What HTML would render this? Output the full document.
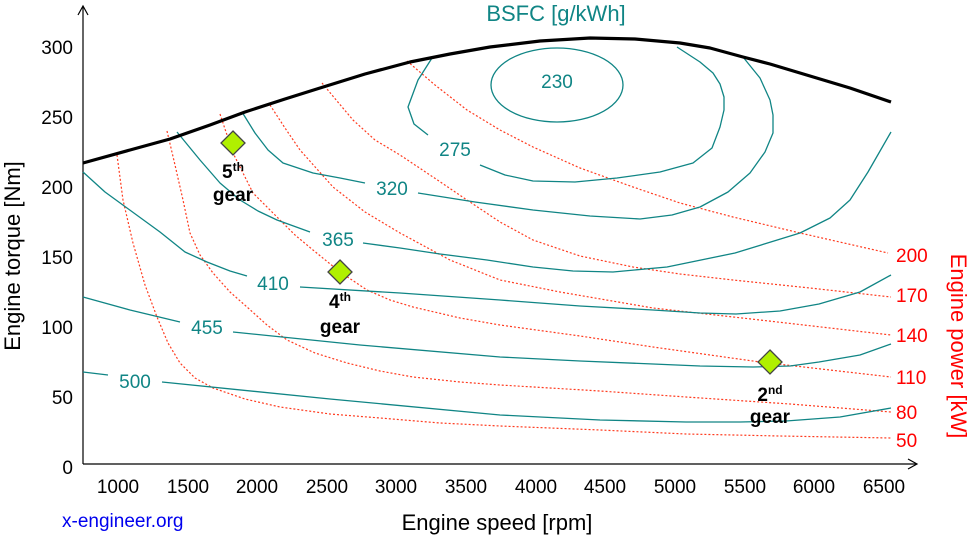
<!DOCTYPE html>
<html><head><meta charset="utf-8"><style>
html,body{margin:0;padding:0;background:#fff;}
svg{display:block;font-family:"Liberation Sans",Arial,sans-serif;}
.t{fill:none;stroke:#108585;stroke-width:1.3;stroke-linejoin:round;}
.r{fill:none;stroke:#ff3b1f;stroke-width:1.2;stroke-dasharray:2 2;stroke-linejoin:round;}
.tl{fill:#108585;font-size:19px;text-anchor:middle;}
.rl{fill:#ff0000;font-size:19px;}
.ax{font-size:19px;fill:#000;}
.g{font-size:19px;font-weight:bold;text-anchor:middle;fill:#000;}
</style></head><body>
<svg width="972" height="537" viewBox="0 0 972 537">
<line x1="83" y1="464" x2="83" y2="7" stroke="#000" stroke-width="1.2"/>
<polyline points="78,15 83,6 88,15" fill="none" stroke="#000" stroke-width="1.2"/>
<line x1="83" y1="464" x2="916" y2="464" stroke="#000" stroke-width="1.2"/>
<polyline points="908,459 917,464 908,469" fill="none" stroke="#000" stroke-width="1.2"/>

<polyline class="r" points="117,155 123,200 133,243 145,285 157,317 168,343 180,363 195,378 213,388 245,399 280,407 330,414 380,418 440,423 500,426 600,430 686,434 780,436 891,438"/>
<polyline class="r" points="167,131 175,165 183,200 190,233 200,255 213,273 230,292 247,307 267,325 287,340 315,353 347,363 380,371 413,377 460,382 500,385 600,391 686,397 790,404 891,412"/>
<polyline class="r" points="220,114 233,153 253,193 275,215 295,235 313,250 340,272 367,290 390,300 413,307 460,318 500,325 580,336 653,347 760,362 891,377"/>
<polyline class="r" points="270,105 285,128 300,150 333,187 365,212 400,233 450,260 500,280 560,292 653,308 760,320 891,335"/>
<polyline class="r" points="322,83 337,101 353,120 375,140 400,155 430,175 467,200 500,222 533,240 580,256 633,267 680,274 733,280 810,288 891,297"/>
<polyline class="r" points="407,61 435,85 467,110 500,130 533,147 580,168 633,187 680,203 733,217 800,233 888,253"/>

<ellipse cx="557" cy="85" rx="66" ry="37" class="t"/>
<polyline class="t" points="432,58 418,80 408,107 414,124 428,135"/>
<polyline class="t" points="480,165 505,175 533,181 575,182 617,178 660,172 693,163 712,148 720,127 724,110 724,97 720,84 713,73 700,62 677,47"/>
<polyline class="t" points="242,112 255,133 268,150 283,163 313,173 340,178 365,183"/>
<polyline class="t" points="418,193 475,202 533,210 590,216 640,219 672,215 700,207 728,192 750,173 765,152 773,133 773,115 770,100 760,78 743,57"/>
<polyline class="t" points="177,132 200,160 220,183 240,200 258,211 277,220 310,232"/>
<polyline class="t" points="363,243 400,248 440,254 487,260 533,267 573,271 613,272 667,267 735,253 800,233 830,218 850,200 868,172 891,132"/>
<polyline class="t" points="83,172 105,192 127,208 160,232 185,252 207,262 230,271 247,276"/>
<polyline class="t" points="300,287 400,293 500,300 580,306 653,310 700,313 736,314 780,311 819,304 860,292 891,275"/>
<polyline class="t" points="83,297 130,310 180,322"/>
<polyline class="t" points="233,332 360,345 500,357 580,361 653,364 700,366 753,367 790,366 819,362 860,355 891,344"/>
<polyline class="t" points="83,372 108,375"/>
<polyline class="t" points="162,382 330,399 500,415 600,420 686,422 740,422 786,421 840,417 891,408"/>

<text class="tl" x="557" y="88">230</text>
<text class="tl" x="455" y="156">275</text>
<text class="tl" x="392" y="195">320</text>
<text class="tl" x="338" y="246">365</text>
<text class="tl" x="273" y="290">410</text>
<text class="tl" x="207" y="334">455</text>
<text class="tl" x="135" y="388">500</text>

<polyline fill="none" stroke="#000" stroke-width="3.2" stroke-linejoin="round" points="83,163 130,150 170,139 210,125 245,112 285,99 320,88 365,74 410,62 450,54 490,47 540,41 590,38 635,39 680,43 710,48 743,57 770,64 800,73 850,88 891,102"/>

<polygon points="233,131 245,143 233,155 221,143" fill="#b0f000" stroke="#444" stroke-width="1.3"/>
<polygon points="340,260 352,272 340,284 328,272" fill="#b0f000" stroke="#444" stroke-width="1.3"/>
<polygon points="770,350 782,362 770,374 758,362" fill="#b0f000" stroke="#444" stroke-width="1.3"/>
<text class="g" x="233" y="178">5<tspan font-size="12" dy="-7">th</tspan></text>
<text class="g" x="233" y="201">gear</text>
<text class="g" x="340" y="308">4<tspan font-size="12" dy="-7">th</tspan></text>
<text class="g" x="340" y="333">gear</text>
<text class="g" x="770" y="401">2<tspan font-size="12" dy="-7">nd</tspan></text>
<text class="g" x="770" y="423">gear</text>

<g class="ax" text-anchor="end">
<text x="73" y="54">300</text><text x="73" y="124">250</text><text x="73" y="194">200</text>
<text x="73" y="264">150</text><text x="73" y="334">100</text><text x="73" y="404">50</text><text x="73" y="474">0</text>
</g>
<g class="ax" text-anchor="middle">
<text x="118" y="493">1000</text><text x="188" y="493">1500</text><text x="257" y="493">2000</text>
<text x="327" y="493">2500</text><text x="396" y="493">3000</text><text x="466" y="493">3500</text>
<text x="536" y="493">4000</text><text x="605" y="493">4500</text><text x="675" y="493">5000</text>
<text x="745" y="493">5500</text><text x="814" y="493">6000</text><text x="884" y="493">6500</text>
</g>
<text class="rl" x="896" y="262">200</text>
<text class="rl" x="896" y="302">170</text>
<text class="rl" x="896" y="342">140</text>
<text class="rl" x="896" y="384">110</text>
<text class="rl" x="896" y="419">80</text>
<text class="rl" x="896" y="447">50</text>

<text x="556" y="21" fill="#108585" font-size="22" text-anchor="middle">BSFC [g/kWh]</text>
<text x="497" y="530" font-size="22" text-anchor="middle">Engine speed [rpm]</text>
<text transform="translate(20,256) rotate(-90)" font-size="22" text-anchor="middle">Engine torque [Nm]</text>
<text transform="translate(951,346) rotate(90)" font-size="22" fill="#ff0000" text-anchor="middle">Engine power [kW]</text>
<text x="62" y="527" font-size="19" fill="#0000ee">x-engineer.org</text>
</svg>
</body></html>
